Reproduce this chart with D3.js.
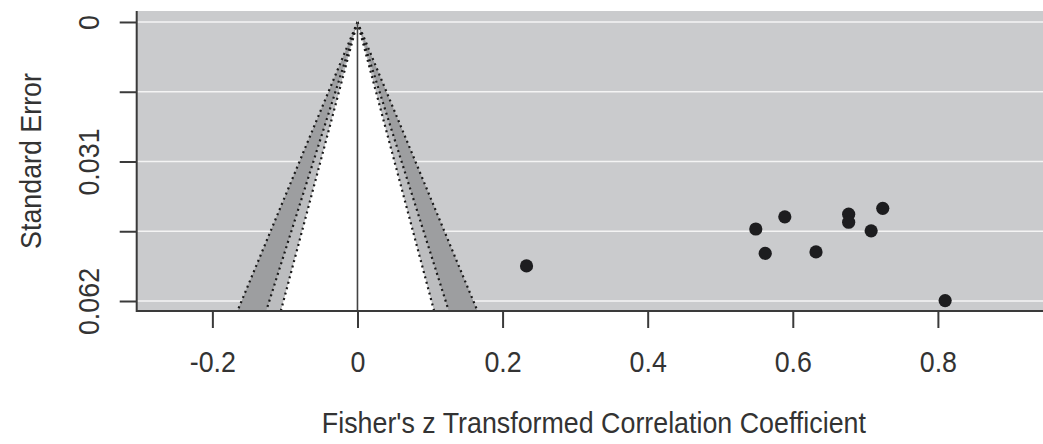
<!DOCTYPE html>
<html>
<head>
<meta charset="utf-8">
<script src="https://cdn.jsdelivr.net/npm/d3@7"></script>
<style>
  body { margin: 0; background: #fff; }
  svg { display: block; overflow: hidden; }
  text { font-family: "Liberation Sans", Arial, sans-serif; fill: #333; }
</style>
</head>
<body>
<div id="chart"></div>
<script>
// Study estimates (Fisher's z) and their standard errors
const effects = [0.233, 0.549, 0.589, 0.562, 0.632, 0.677, 0.677, 0.724, 0.708, 0.810];
const stdErrors = [0.0542, 0.0460, 0.0433, 0.0514, 0.0511, 0.0427, 0.0445, 0.0414, 0.0464, 0.0619];

// Axis ticks and labels
const xTicks = [-0.2, 0, 0.2, 0.4, 0.6, 0.8];
const xTickLabels = ["-0.2", "0", "0.2", "0.4", "0.6", "0.8"];
const yTicks = [0, 0.0155, 0.031, 0.0465, 0.062];
const yTickLabels = ["0", "", "0.031", "", "0.062"];

// Contour levels (z values for 90%, 95%, 99%)
const levels = [
  { level: 99, z: 2.576, fill: "#9d9ea0" },
  { level: 95, z: 1.96, fill: "#bcbdbf" },
  { level: 90, z: 1.645, fill: "#ffffff" }
];

const svgWidth = 1043;
const svgHeight = 444;
const plot = { left: 136.7, right: 1051, top: 11, bottom: 311 };
const seMax = 0.06422;
const textSquash = 0.925;

const svg = d3
  .select("#chart")
  .append("svg")
  .attr("width", svgWidth)
  .attr("height", svgHeight);

const x = d3.scaleLinear().domain([-0.3043, 0.9559]).range([plot.left, plot.right]);
const y = d3.scaleLinear().domain([-0.00244, seMax]).range([plot.top, plot.bottom]);

// Plot background
svg
  .append("rect")
  .attr("x", plot.left)
  .attr("y", plot.top)
  .attr("width", plot.right - plot.left)
  .attr("height", plot.bottom - plot.top)
  .attr("fill", "#cacbcd");

// White grid lines at y ticks
svg
  .selectAll(".grid")
  .data(yTicks)
  .enter()
  .append("line")
  .attr("x1", plot.left)
  .attr("x2", plot.right)
  .attr("y1", (d) => y(d))
  .attr("y2", (d) => y(d))
  .attr("stroke", "#f4f4f4")
  .attr("stroke-width", 1.6);

// Funnel contours
const funnel = (z) => [
  [x(0), y(0)],
  [x(-z * seMax), y(seMax)],
  [x(z * seMax), y(seMax)]
];

svg
  .selectAll(".contour")
  .data(levels)
  .enter()
  .append("polygon")
  .attr("points", (d) => funnel(d.z).map((p) => p.join(",")).join(" "))
  .attr("fill", (d) => d.fill);

// Dotted contour edges
levels.forEach((d) => {
  [-1, 1].forEach((s) => {
    svg
      .append("line")
      .attr("x1", x(0))
      .attr("y1", y(0))
      .attr("x2", x(s * d.z * seMax))
      .attr("y2", y(seMax))
      .attr("stroke", "#1a1a1a")
      .attr("stroke-width", 2.2)
      .attr("stroke-dasharray", "2,3.6");
  });
});

// Reference line at 0
svg
  .append("line")
  .attr("x1", x(0))
  .attr("x2", x(0))
  .attr("y1", y(0))
  .attr("y2", y(seMax))
  .attr("stroke", "#444")
  .attr("stroke-width", 1.6);

// Points
svg
  .selectAll(".dot")
  .data(effects)
  .enter()
  .append("circle")
  .attr("cx", (d) => x(d))
  .attr("cy", (d, i) => y(stdErrors[i]))
  .attr("r", 6.6)
  .attr("fill", "#1d1d1f");

// Box (bty = "l")
svg
  .append("path")
  .attr("d", `M${plot.left},${plot.top}V${plot.bottom}H${plot.right}`)
  .attr("fill", "none")
  .attr("stroke", "#3a3a3a")
  .attr("stroke-width", 2);

// X axis
const xAxis = svg
  .append("g")
  .attr("transform", `translate(0,${plot.bottom})`)
  .call(d3.axisBottom(x).tickValues(xTicks).tickSize(17).tickFormat((d, i) => xTickLabels[i]));
xAxis.select(".domain").remove();
xAxis.selectAll(".tick line").attr("stroke", "#3a3a3a").attr("stroke-width", 2);
xAxis
  .selectAll(".tick text")
  .attr("y", null)
  .attr("dy", null)
  .attr("transform", `translate(0,61) scale(${textSquash},1)`)
  .style("font-size", "29px")
  .style("fill", "#333");

// Y axis
const yAxis = svg
  .append("g")
  .attr("transform", `translate(${plot.left},0)`)
  .call(d3.axisLeft(y).tickValues(yTicks).tickSize(17).tickFormat((d, i) => yTickLabels[i]));
yAxis.select(".domain").remove();
yAxis.selectAll(".tick line").attr("stroke", "#3a3a3a").attr("stroke-width", 2);
yAxis
  .selectAll(".tick text")
  .attr("x", null)
  .attr("dy", null)
  .attr("text-anchor", "middle")
  .attr("transform", `translate(-38,0) rotate(-90) scale(${textSquash},1)`)
  .style("font-size", "29px")
  .style("fill", "#333");

// Axis titles
svg
  .append("text")
  .attr("text-anchor", "middle")
  .attr("transform", `translate(${(plot.left + plot.right) / 2},433) scale(${textSquash},1)`)
  .style("font-size", "29px")
  .text("Fisher's z Transformed Correlation Coefficient");

svg
  .append("text")
  .attr("text-anchor", "middle")
  .attr("transform", `translate(41,${(plot.top + plot.bottom) / 2}) rotate(-90) scale(${textSquash},1)`)
  .style("font-size", "29px")
  .text("Standard Error");
</script>
</body>
</html>
